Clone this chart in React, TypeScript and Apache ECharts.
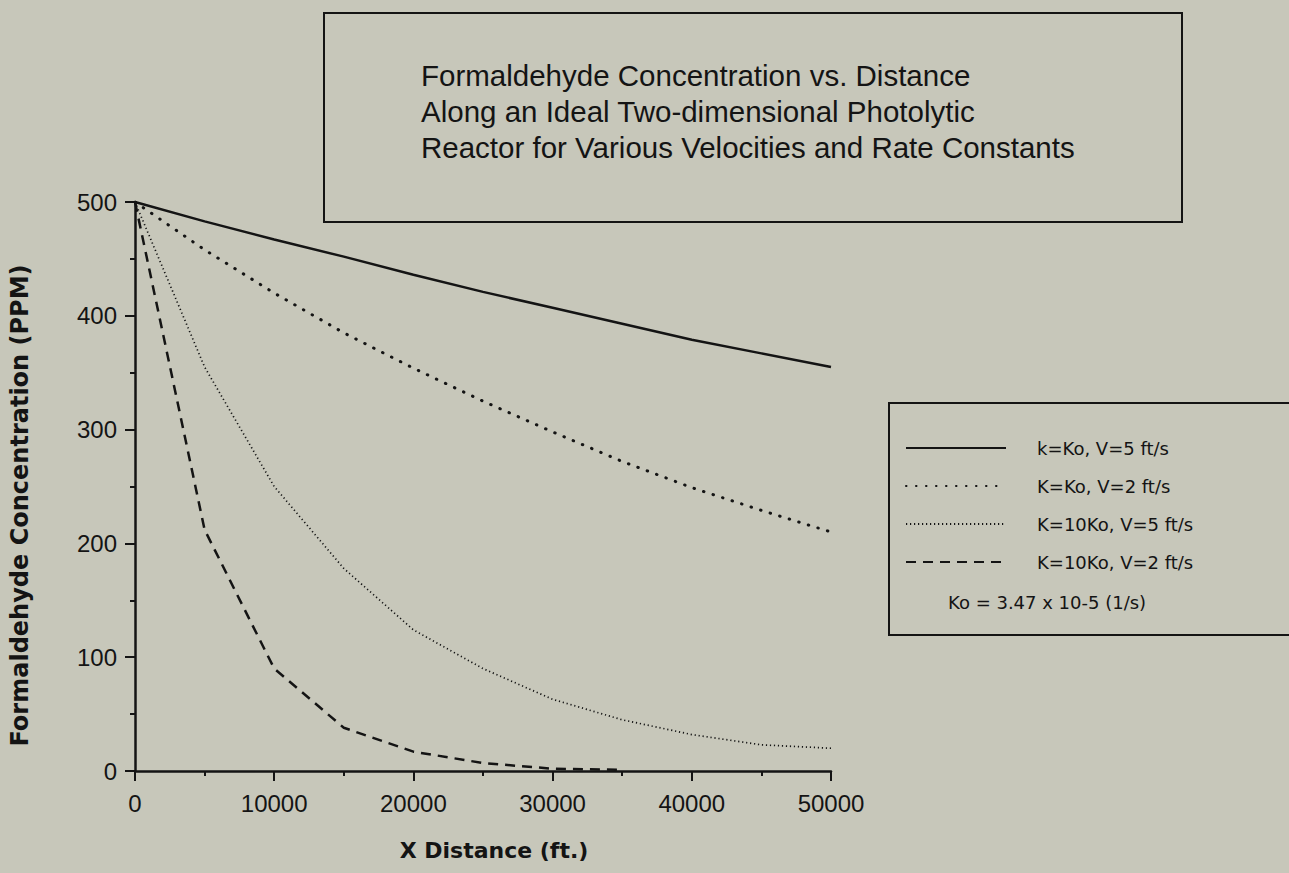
import React, { useEffect, useRef } from "react";
import * as echarts from "echarts";

// ---- data ----
const distances = [0, 5000, 10000, 15000, 20000, 25000, 30000, 35000, 40000, 45000, 50000];
const seriesNames = [
  "k=Ko, V=5 ft/s",
  "K=Ko, V=2 ft/s",
  "K=10Ko, V=5 ft/s",
  "K=10Ko, V=2 ft/s",
];
const kKoV5 = [500, 483, 467, 452, 436, 421, 407, 393, 379, 367, 355];
const kKoV2 = [500, 458, 420, 385, 354, 325, 298, 272, 249, 229, 210];
const k10KoV5 = [500, 355, 250, 178, 124, 90, 63, 45, 32, 23, 20];
const k10KoV2 = [500, 212, 90, 38, 17, 7, 2, 1];
const titleLines = [
  "Formaldehyde Concentration vs. Distance",
  "Along an Ideal Two-dimensional Photolytic",
  "Reactor for Various Velocities and Rate Constants",
];
const koNote = "Ko = 3.47 x 10-5 (1/s)";
const xAxisTitle = "X Distance (ft.)";
const yAxisTitle = "Formaldehyde Concentration (PPM)";

const BG = "#c7c7ba";
const INK = "#141414";

function pairs(vals: number[]) {
  return vals.map((v, i) => [distances[i], v]);
}

export default function App() {
  const ref = useRef<HTMLDivElement>(null);
  useEffect(() => {
    if (!ref.current) return;
    const chart = echarts.init(ref.current, undefined, { renderer: "svg" });
    const lineStyles: any[] = [
      { color: INK, width: 2.5, type: "solid" },
      { color: INK, width: 3, type: [0.5, 9.5], cap: "round" },
      { color: INK, width: 1.7, type: [1.2, 2.8] },
      { color: INK, width: 2.5, type: [10, 7] },
    ];
    const datas = [kKoV5, kKoV2, k10KoV5, k10KoV2];
    chart.setOption({
      animation: false,
      backgroundColor: BG,
      grid: { left: 135, right: 458, top: 202, bottom: 102 },
      xAxis: {
        type: "value",
        min: 0,
        max: 50000,
        interval: 10000,
        name: xAxisTitle,
        nameLocation: "middle",
        nameGap: 68,
        nameTextStyle: {
          fontFamily: "DejaVu Sans",
          fontWeight: "bold",
          fontSize: 22,
          color: INK,
          padding: [0, 0, 0, 22],
        },
        axisLine: { show: true, lineStyle: { color: INK, width: 2.5 } },
        axisTick: { show: true, length: 10, lineStyle: { color: INK, width: 2 } },
        minorTick: { show: true, splitNumber: 2, length: 5, lineStyle: { color: INK, width: 2 } },
        splitLine: { show: false },
        axisLabel: {
          margin: 20,
          fontFamily: "Liberation Sans",
          fontSize: 24,
          color: INK,
          formatter: (v: number) => String(v),
        },
      },
      yAxis: {
        type: "value",
        min: 0,
        max: 500,
        interval: 100,
        name: yAxisTitle,
        nameLocation: "middle",
        nameRotate: 90,
        nameGap: 103,
        nameTextStyle: {
          fontFamily: "DejaVu Sans",
          fontWeight: "bold",
          fontSize: 24,
          color: INK,
          padding: [0, 38, 0, 0],
        },
        axisLine: { show: true, lineStyle: { color: INK, width: 2.5 } },
        axisTick: { show: true, length: 10, lineStyle: { color: INK, width: 2 } },
        minorTick: { show: true, splitNumber: 2, length: 5, lineStyle: { color: INK, width: 2 } },
        splitLine: { show: false },
        axisLabel: {
          margin: 18,
          fontFamily: "Liberation Sans",
          fontSize: 24,
          color: INK,
          formatter: (v: number) => String(v),
        },
      },
      legend: {
        orient: "vertical",
        left: 905,
        top: 439,
        itemWidth: 100,
        itemHeight: 18,
        itemGap: 20,
        padding: 0,
        data: seriesNames,
        itemStyle: { opacity: 0 },
        textStyle: {
          fontFamily: "DejaVu Sans",
          fontSize: 18,
          color: INK,
          padding: [0, 0, 0, 26],
        },
      },
      graphic: [
        {
          type: "rect",
          shape: { x: 324, y: 13, width: 858, height: 209 },
          style: { fill: "none", stroke: INK, lineWidth: 2 },
          silent: true,
        },
        ...titleLines.map((t, i) => ({
          type: "text",
          x: 421,
          y: 75 + i * 36,
          style: {
            text: t,
            fontFamily: "Liberation Sans",
            fontSize: 29.5,
            fill: INK,
            verticalAlign: "middle",
            textAlign: "left",
          },
          silent: true,
        })),
        {
          type: "rect",
          shape: { x: 889, y: 403, width: 420, height: 232 },
          style: { fill: "none", stroke: INK, lineWidth: 2 },
          silent: true,
        },
        {
          type: "text",
          x: 948,
          y: 602,
          style: {
            text: koNote,
            fontFamily: "DejaVu Sans",
            fontSize: 18,
            fill: INK,
            verticalAlign: "middle",
            textAlign: "left",
          },
          silent: true,
        },
      ],
      series: datas.map((d, i) => ({
        name: seriesNames[i],
        type: "line",
        data: pairs(d),
        symbol: "none",
        smooth: false,
        lineStyle: lineStyles[i],
        itemStyle: { color: INK },
        z: 3,
      })),
    });
    return () => chart.dispose();
  }, []);
  return (
    <div
      ref={ref}
      style={{ position: "fixed", left: 0, top: 0, width: 1289, height: 873, background: BG }}
    />
  );
}
